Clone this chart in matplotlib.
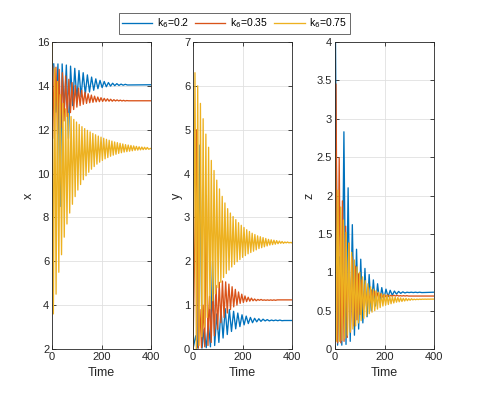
import numpy as np
import matplotlib.pyplot as plt

plt.rcParams['font.family'] = ['Liberation Sans', 'DejaVu Sans']

# valores de k6 y colores (orden de MATLAB)
k6 = [0.2, 0.35, 0.75]
colores = ['#0072BD', '#D95319', '#EDB120']

# ---- x(t): maximos / minimos ----
x_azul_hi = [15.0, 15.0, 15.0, 14.95, 14.9, 14.8, 14.7, 14.6, 14.5, 14.4, 14.32, 14.25,
             14.2, 14.15, 14.12, 14.1, 14.08, 14.07]
x_azul_lo = [12.8, 8.5, 12.9, 11.6, 13.1, 13.35, 13.5, 13.62, 13.72, 13.8, 13.87, 13.92,
             13.96, 13.99, 14.01, 14.02, 14.03, 14.04]
x_azul_fin = 14.05

x_rojo_hi = [14.9, 14.85, 14.75, 14.6, 14.45, 14.3, 14.15, 14.02, 13.9, 13.8, 13.71, 13.64,
             13.58, 13.53, 13.49, 13.46, 13.43, 13.41, 13.39, 13.37, 13.36, 13.35, 13.34, 13.33]
x_rojo_lo = [11.6, 11.8, 12.1, 12.4, 12.6, 12.78, 12.92, 13.03, 13.1, 13.16, 13.2, 13.23,
             13.25, 13.27, 13.28, 13.29, 13.3, 13.3, 13.3, 13.31, 13.31, 13.31, 13.31, 13.32]
x_rojo_fin = 13.32

x_amar_hi = [16.0, 14.8, 14.2, 13.6, 13.2, 12.95, 12.75, 12.6, 12.47, 12.35, 12.24, 12.14,
             12.05, 11.97, 11.9, 11.83, 11.77, 11.71, 11.66, 11.61, 11.56, 11.52, 11.48, 11.44,
             11.41, 11.38, 11.35, 11.32, 11.3, 11.28, 11.26, 11.24, 11.22, 11.21, 11.2, 11.19]
x_amar_lo = [3.6, 4.5, 5.5, 6.3, 7.1, 7.7, 8.2, 8.6, 8.95, 9.25, 9.5, 9.72,
             9.9, 10.06, 10.2, 10.32, 10.43, 10.52, 10.6, 10.67, 10.73, 10.79, 10.84, 10.88,
             10.92, 10.95, 10.98, 11.0, 11.02, 11.04, 11.06, 11.07, 11.08, 11.09, 11.1, 11.11]
x_amar_fin = 11.15

# ---- y(t) ----
y_azul_hi = [0.3, 4.65, 0.45, 0.6, 2.0, 0.8, 0.9, 0.92, 0.9, 0.86, 0.82, 0.78,
             0.75, 0.72, 0.7, 0.69, 0.68, 0.67, 0.66, 0.66, 0.66, 0.65, 0.65]
y_azul_lo = [0.02, 0.02, 0.03, 0.05, 0.08, 0.15, 0.25, 0.33, 0.4, 0.46, 0.51, 0.55,
             0.58, 0.6, 0.62, 0.63, 0.64, 0.64, 0.645, 0.645, 0.645, 0.65, 0.65]
y_azul_fin = 0.65

y_rojo_hi = [5.0, 0.9, 1.0, 3.5, 1.2, 1.35, 1.45, 1.52, 1.55, 1.53, 1.48, 1.42,
             1.36, 1.3, 1.25, 1.21, 1.18, 1.16, 1.14, 1.13, 1.13, 1.12, 1.12, 1.12, 1.12, 1.12, 1.12, 1.12, 1.12]
y_rojo_lo = [0.02, 0.03, 0.05, 0.08, 0.15, 0.3, 0.45, 0.6, 0.72, 0.82, 0.9, 0.96,
             1.0, 1.04, 1.06, 1.08, 1.09, 1.1, 1.1, 1.11, 1.11, 1.11, 1.11, 1.11, 1.11, 1.12, 1.12, 1.12, 1.12]
y_rojo_fin = 1.12

y_amar_hi = [6.3, 6.0, 5.6, 5.25, 4.9, 4.6, 4.3, 4.07, 3.85, 3.65, 3.48, 3.33,
             3.2, 3.1, 3.02, 2.95, 2.88, 2.82, 2.77, 2.72, 2.68, 2.64, 2.61, 2.58,
             2.56, 2.54, 2.52, 2.5, 2.49, 2.48, 2.47, 2.46, 2.45, 2.44, 2.44, 2.43]
y_amar_lo = [0.0, 0.08, 0.28, 0.5, 0.72, 0.92, 1.1, 1.26, 1.4, 1.52, 1.63, 1.72,
             1.8, 1.87, 1.93, 1.99, 2.04, 2.09, 2.13, 2.17, 2.2, 2.23, 2.26, 2.29,
             2.31, 2.33, 2.35, 2.37, 2.38, 2.39, 2.4, 2.41, 2.41, 2.42, 2.42, 2.42]
y_amar_fin = 2.43

# ---- z(t) ----
z_azul_hi = [4.0, 1.2, 2.83, 2.1, 1.62, 1.3, 1.17, 1.05, 0.97, 0.9, 0.85, 0.8,
             0.78, 0.765, 0.755, 0.75, 0.745, 0.74, 0.74, 0.74, 0.74]
z_azul_lo = [0.05, 0.05, 0.06, 0.1, 0.18, 0.26, 0.34, 0.42, 0.5, 0.56, 0.61, 0.65,
             0.68, 0.7, 0.715, 0.725, 0.73, 0.735, 0.735, 0.735, 0.735]
z_azul_fin = 0.74

z_rojo_hi = [3.45, 2.49, 1.93, 1.6, 1.38, 1.2, 1.08, 0.98, 0.9, 0.84, 0.8, 0.77,
             0.75, 0.73, 0.72, 0.71, 0.705, 0.7, 0.7, 0.7, 0.695, 0.695, 0.695]
z_rojo_lo = [0.08, 0.08, 0.1, 0.15, 0.22, 0.3, 0.38, 0.45, 0.51, 0.56, 0.6, 0.63,
             0.65, 0.665, 0.675, 0.68, 0.685, 0.688, 0.69, 0.69, 0.69, 0.69, 0.69]
z_rojo_fin = 0.69

z_amar_hi = [2.57, 2.07, 1.85, 1.68, 1.52, 1.38, 1.26, 1.16, 1.07, 1.0, 0.94, 0.89,
             0.85, 0.81, 0.78, 0.76, 0.74, 0.72, 0.71, 0.7, 0.69, 0.68, 0.675, 0.67,
             0.665, 0.66, 0.66, 0.655, 0.655, 0.65, 0.65, 0.65, 0.65, 0.65, 0.65, 0.65]
z_amar_lo = [0.1, 0.1, 0.11, 0.14, 0.18, 0.22, 0.26, 0.3, 0.34, 0.37, 0.4, 0.43,
             0.46, 0.48, 0.5, 0.52, 0.54, 0.56, 0.57, 0.58, 0.59, 0.6, 0.61, 0.615,
             0.62, 0.625, 0.63, 0.635, 0.64, 0.642, 0.644, 0.646, 0.648, 0.648, 0.649, 0.65]
z_amar_fin = 0.65

# tiempo del primer maximo y medio periodo de cada serie
t_ini = {'x': [7, 3, 0], 'y': [11, 15, 8], 'z': [2, 4, 1]}
medio_periodo = [8.5, 6.5, 5.5]
t_fin = 400


def serie(hi, lo, t0, dt, fin, inicio=None):
    # intercala maximos y minimos
    v = []
    for a, b in zip(hi, lo):
        v += [a, b]
    t = list(t0 + dt * np.arange(len(v)))
    if inicio is not None:
        t = [0] + t
        v = [inicio] + v
    t.append(t_fin)
    v.append(fin)
    return np.array(t), np.array(v)


datos = {
    'x': [(x_azul_hi, x_azul_lo, x_azul_fin, None),
          (x_rojo_hi, x_rojo_lo, x_rojo_fin, None),
          (x_amar_hi, x_amar_lo, x_amar_fin, None)],
    'y': [(y_azul_hi, y_azul_lo, y_azul_fin, 0.0),
          (y_rojo_hi, y_rojo_lo, y_rojo_fin, 0.0),
          (y_amar_hi, y_amar_lo, y_amar_fin, 0.0)],
    'z': [(z_azul_hi, z_azul_lo, z_azul_fin, None),
          (z_rojo_hi, z_rojo_lo, z_rojo_fin, None),
          (z_amar_hi, z_amar_lo, z_amar_fin, None)],
}
limites = {'x': (2, 16), 'y': (0, 7), 'z': (0, 4)}
ticks = {'x': np.arange(2, 17, 2), 'y': np.arange(0, 8, 1),
         'z': [0, 0.5, 1, 1.5, 2, 2.5, 3, 3.5, 4]}
etiq_z = ['0', '0.5', '1', '1.5', '2', '2.5', '3', '3.5', '4']

fig = plt.figure(figsize=(4.84, 3.98), dpi=100)
izq = [52, 193, 335]
gris = '#262626'
lineas = []
for i, var in enumerate(['x', 'y', 'z']):
    ax = fig.add_axes([izq[i] / 484, 49 / 398, 99 / 484, 307 / 398])
    for j in range(3):
        hi, lo, fin, inicio = datos[var][j]
        t, v = serie(hi, lo, t_ini[var][j], medio_periodo[j], fin, inicio)
        l, = ax.plot(t, v, color=colores[j], lw=0.95)
        if i == 0:
            lineas.append(l)
    ax.set_xlim(0, 400)
    ax.set_ylim(*limites[var])
    ax.set_xticks([0, 200, 400])
    ax.set_yticks(ticks[var])
    if var == 'z':
        ax.set_yticklabels(etiq_z)
    ax.grid(True, color='#e0e0e0', lw=0.6)
    ax.set_axisbelow(True)
    ax.tick_params(direction='in', top=True, right=True, length=3, width=0.6,
                   labelsize=8, colors=gris, pad=2)
    for s in ax.spines.values():
        s.set_color(gris)
        s.set_linewidth(0.6)
    ax.set_xlabel('Time', fontsize=9, color=gris, labelpad=4)
    ax.set_ylabel(var, fontsize=9, color=gris, labelpad=1)

etiquetas = ['k$_6$=%g' % k for k in k6]
leg = fig.legend(lineas, etiquetas, loc='center', bbox_to_anchor=(234.5 / 484, 1 - 23.5 / 398),
                 ncol=3, fontsize=7.5, frameon=True, fancybox=False, edgecolor=gris,
                 handlelength=2.9, columnspacing=0.6, handletextpad=0.45,
                 borderpad=0.3, borderaxespad=0)
leg.get_frame().set_linewidth(0.6)

plt.savefig('out.png', dpi=100)
